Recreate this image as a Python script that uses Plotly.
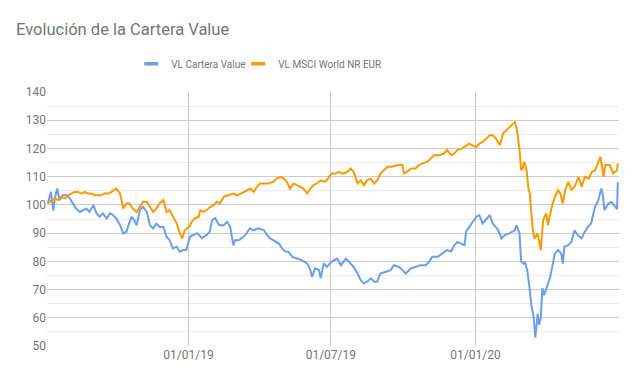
import plotly.graph_objects as go

title_text = "Evolución de la Cartera Value"
series_names = ["VL Cartera Value", "VL MSCI World NR EUR"]
series_colors = ["#6d9eeb", "#ff9900"]

cartera_dates = [
    "2018-07-06", "2018-07-10", "2018-07-13", "2018-07-15", "2018-07-18", "2018-07-21", "2018-07-25", "2018-07-30",
    "2018-08-03", "2018-08-07", "2018-08-11", "2018-08-16", "2018-08-20", "2018-08-24", "2018-08-28",
    "2018-09-02", "2018-09-06", "2018-09-10", "2018-09-14", "2018-09-19", "2018-09-23", "2018-09-27",
    "2018-10-01", "2018-10-06", "2018-10-10", "2018-10-14", "2018-10-18", "2018-10-21", "2018-10-25", "2018-10-27", "2018-10-31",
    "2018-11-04", "2018-11-09", "2018-11-13", "2018-11-17", "2018-11-21", "2018-11-25", "2018-11-30",
    "2018-12-04", "2018-12-08", "2018-12-12", "2018-12-17", "2018-12-21", "2018-12-25", "2018-12-29",
    "2019-01-03", "2019-01-12", "2019-01-18", "2019-01-24", "2019-01-28", "2019-01-31",
    "2019-02-04", "2019-02-09", "2019-02-15", "2019-02-19", "2019-02-23", "2019-02-27",
    "2019-03-01", "2019-03-06", "2019-03-12", "2019-03-16", "2019-03-20", "2019-03-25", "2019-03-31",
    "2019-04-07", "2019-04-11", "2019-04-15", "2019-04-19", "2019-04-26", "2019-04-30",
    "2019-05-04", "2019-05-08", "2019-05-13", "2019-05-19", "2019-05-25",
    "2019-06-01", "2019-06-05", "2019-06-07", "2019-06-11", "2019-06-16", "2019-06-18", "2019-06-22", "2019-06-26",
    "2019-07-02", "2019-07-05", "2019-07-09", "2019-07-14", "2019-07-20", "2019-07-24", "2019-07-30",
    "2019-08-04", "2019-08-08", "2019-08-12", "2019-08-16", "2019-08-21", "2019-08-25", "2019-08-29",
    "2019-09-02", "2019-09-09", "2019-09-15", "2019-09-19", "2019-09-26", "2019-09-30",
    "2019-10-04", "2019-10-11", "2019-10-17", "2019-10-23", "2019-10-30",
    "2019-11-03", "2019-11-07", "2019-11-14", "2019-11-20", "2019-11-26",
    "2019-12-01", "2019-12-05", "2019-12-09", "2019-12-13", "2019-12-18", "2019-12-20", "2019-12-24", "2019-12-28",
    "2020-01-02", "2020-01-06", "2020-01-10", "2020-01-15", "2020-01-19", "2020-01-23", "2020-01-30",
    "2020-02-03", "2020-02-07", "2020-02-13", "2020-02-20", "2020-02-22", "2020-02-26", "2020-02-28",
    "2020-03-02", "2020-03-04", "2020-03-07", "2020-03-10", "2020-03-12", "2020-03-15", "2020-03-16", "2020-03-17",
    "2020-03-19", "2020-03-20", "2020-03-22", "2020-03-24", "2020-03-26", "2020-03-28",
    "2020-04-01", "2020-04-05", "2020-04-09", "2020-04-11", "2020-04-15", "2020-04-19", "2020-04-21", "2020-04-23", "2020-04-28",
    "2020-05-02", "2020-05-06", "2020-05-10", "2020-05-15", "2020-05-19", "2020-05-23", "2020-05-27",
    "2020-06-01", "2020-06-05", "2020-06-09", "2020-06-11", "2020-06-13", "2020-06-18", "2020-06-22", "2020-06-26",
    "2020-06-29", "2020-06-30",
]
cartera_values = [
    100.5, 104.6, 98.0, 102.3, 105.8, 101.7, 103.4, 103.4,
    102.3, 100.5, 98.7, 97.5, 98.0, 98.7, 97.5,
    99.9, 97.0, 95.8, 97.0, 95.2, 97.0, 96.4,
    95.2, 92.8, 89.9, 90.5, 94.0, 95.8, 94.0, 92.8, 98.1,
    99.3, 97.5, 92.8, 91.6, 93.4, 92.2, 92.2,
    88.7, 87.5, 84.6, 85.2, 83.4, 84.0, 84.0,
    88.8, 90.0, 88.2, 89.3, 90.5, 94.6,
    95.3, 92.8, 92.8, 94.0, 92.2, 85.7,
    87.5, 87.5, 88.7, 90.0, 91.7, 91.0, 91.7,
    91.0, 89.3, 88.1, 87.5, 86.3, 84.6,
    83.5, 83.4, 81.6, 81.0, 80.4,
    79.2, 76.9, 74.5, 77.5, 76.9, 74.0, 79.3, 78.0,
    79.9, 80.4, 81.0, 78.6, 81.0, 79.8, 78.0,
    75.7, 73.3, 72.2, 72.8, 74.0, 72.8, 72.8,
    75.7, 76.3, 76.9, 78.6, 78.0, 76.9,
    75.7, 77.5, 78.0, 78.6, 78.6,
    79.8, 81.6, 81.6, 82.8, 84.0,
    83.5, 85.7, 86.9, 86.3, 85.7, 90.5, 92.2, 94.0,
    95.8, 96.4, 93.4, 95.0, 96.4, 93.4, 91.0,
    88.1, 89.3, 89.9, 91.0, 92.8, 89.9, 80.0,
    79.2, 79.8, 76.5, 70.0, 64.5, 60.4, 57.0, 53.0,
    58.0, 61.5, 57.5, 60.0, 70.5, 68.0,
    71.0, 74.5, 80.0, 82.8, 84.0, 82.8, 79.2, 85.2, 85.7,
    86.9, 91.0, 89.3, 88.1, 90.5, 92.2, 93.4,
    99.3, 101.5, 105.8, 103.4, 98.1, 100.5, 101.0, 99.7,
    98.5, 108.0,
]

msci_dates = [
    "2018-07-06", "2018-07-11", "2018-07-15", "2018-07-19", "2018-07-23", "2018-07-28",
    "2018-08-01", "2018-08-05", "2018-08-09", "2018-08-13", "2018-08-18", "2018-08-22", "2018-08-26", "2018-08-30",
    "2018-09-04", "2018-09-08", "2018-09-12", "2018-09-16", "2018-09-21", "2018-09-25", "2018-09-29",
    "2018-10-01", "2018-10-06", "2018-10-10", "2018-10-14", "2018-10-18", "2018-10-22", "2018-10-27", "2018-10-31",
    "2018-11-04", "2018-11-09", "2018-11-13", "2018-11-17", "2018-11-21", "2018-11-25", "2018-11-30",
    "2018-12-04", "2018-12-08", "2018-12-12", "2018-12-17", "2018-12-21", "2018-12-24", "2018-12-27",
    "2019-01-02", "2019-01-05", "2019-01-09", "2019-01-14", "2019-01-16", "2019-01-20", "2019-01-24", "2019-01-29",
    "2019-02-02", "2019-02-06", "2019-02-10", "2019-02-15", "2019-02-21", "2019-02-27",
    "2019-03-04", "2019-03-08", "2019-03-12", "2019-03-16", "2019-03-21", "2019-03-25", "2019-03-29",
    "2019-04-02", "2019-04-07", "2019-04-13", "2019-04-19", "2019-04-23", "2019-04-28",
    "2019-05-02", "2019-05-06", "2019-05-10", "2019-05-15", "2019-05-19", "2019-05-23", "2019-05-27",
    "2019-06-01", "2019-06-05", "2019-06-09", "2019-06-13", "2019-06-18", "2019-06-22", "2019-06-26", "2019-06-30",
    "2019-07-03", "2019-07-07", "2019-07-11", "2019-07-16", "2019-07-22", "2019-07-26", "2019-07-30",
    "2019-08-04", "2019-08-08", "2019-08-12", "2019-08-16", "2019-08-21", "2019-08-25", "2019-08-29",
    "2019-09-02", "2019-09-07", "2019-09-11", "2019-09-17", "2019-09-24", "2019-09-30",
    "2019-10-02", "2019-10-06", "2019-10-11", "2019-10-17", "2019-10-21", "2019-10-26",
    "2019-11-01", "2019-11-05", "2019-11-09", "2019-11-16", "2019-11-22", "2019-11-26",
    "2019-12-01", "2019-12-05", "2019-12-09", "2019-12-15", "2019-12-20", "2019-12-24", "2019-12-28",
    "2020-01-02", "2020-01-06", "2020-01-10", "2020-01-15", "2020-01-19", "2020-01-23", "2020-01-27",
    "2020-02-01", "2020-02-05", "2020-02-09", "2020-02-13", "2020-02-18", "2020-02-20", "2020-02-22", "2020-02-24",
    "2020-02-26", "2020-02-28", "2020-03-01", "2020-03-03", "2020-03-06", "2020-03-08", "2020-03-10", "2020-03-12",
    "2020-03-14", "2020-03-16", "2020-03-20", "2020-03-24", "2020-03-27", "2020-03-31",
    "2020-04-02", "2020-04-07", "2020-04-11", "2020-04-15", "2020-04-18", "2020-04-21", "2020-04-24", "2020-04-28",
    "2020-05-02", "2020-05-07", "2020-05-11", "2020-05-15", "2020-05-19", "2020-05-24", "2020-05-28",
    "2020-06-01", "2020-06-05", "2020-06-08", "2020-06-12", "2020-06-14", "2020-06-20", "2020-06-24", "2020-06-29",
    "2020-06-30",
]
msci_values = [
    100.5, 101.7, 102.3, 101.7, 102.9, 102.3,
    103.4, 104.0, 104.6, 104.6, 104.0, 104.6, 104.0, 104.0,
    103.4, 103.4, 103.4, 104.0, 104.0, 104.6, 105.2,
    105.8, 104.0, 98.7, 100.5, 100.5, 98.7, 97.5, 99.3,
    101.1, 101.1, 99.3, 97.5, 98.7, 100.5, 101.7,
    97.5, 98.1, 95.8, 93.4, 89.9, 88.1, 91.0,
    92.2, 94.0, 95.2, 95.8, 98.1, 97.5, 98.1, 99.3,
    99.9, 101.1, 100.5, 102.9, 103.4, 104.0,
    103.4, 104.0, 104.6, 105.2, 105.8, 104.6, 106.4,
    107.6, 107.6, 107.6, 108.2, 109.3, 109.9,
    109.3, 108.2, 105.8, 107.6, 107.0, 106.4, 105.8,
    104.0, 105.8, 107.0, 107.6, 108.7, 108.2, 108.7, 110.5,
    111.1, 111.1, 111.7, 111.1, 111.7, 112.9, 111.7,
    107.6, 108.7, 107.0, 108.7, 109.3, 107.6, 108.7,
    111.1, 112.3, 113.5, 113.5, 114.1, 114.1,
    111.1, 111.7, 112.9, 112.9, 114.1, 114.7,
    115.3, 116.4, 117.6, 117.6, 118.2, 119.4,
    117.6, 118.2, 119.4, 120.0, 121.1, 121.7, 121.1,
    120.5, 121.7, 122.3, 123.5, 124.7, 124.7, 123.5,
    121.1, 125.3, 126.4, 127.6, 128.8, 129.3, 127.6, 124.0,
    119.4, 112.3, 113.0, 115.3, 112.3, 106.4, 104.0, 97.0,
    91.0, 88.1, 89.9, 84.0, 94.6, 97.0,
    92.8, 99.3, 102.9, 105.2, 104.0, 100.5, 105.2, 108.2,
    105.2, 107.0, 109.9, 106.4, 109.9, 109.3, 111.7,
    112.3, 114.7, 117.0, 109.9, 114.1, 114.1, 111.1, 112.3,
    114.7,
]

x_tick_vals = ["2019-01-01", "2019-07-01", "2020-01-01", "2020-07-01"]
x_tick_text = ["01/01/19", "01/07/19", "01/01/20", ""]
x_range = ["2018-07-05", "2020-07-01 12:00"]
y_range = [50, 140]

font_family = "Roboto, Arial, sans-serif"
text_grey = "#757575"

series = [
    (series_names[0], cartera_dates, cartera_values, series_colors[0], "legend"),
    (series_names[1], msci_dates, msci_values, series_colors[1], "legend2"),
]

fig = go.Figure()
for name, xs, ys, color, leg in series:
    fig.add_trace(go.Scatter(
        x=xs, y=ys, name=name, mode="lines", legendgroup=name, showlegend=False,
        line=dict(color=color, width=2),
    ))
    # legend entry: short thick bar, like the original key
    fig.add_trace(go.Scatter(
        x=[None], y=[None], name=name, mode="markers", legendgroup=name, legend=leg,
        marker=dict(symbol="line-ew", size=10, color=color, line=dict(color=color, width=3.5)),
    ))

legend_style = dict(orientation="h", xanchor="left", yanchor="middle", y=1.111,
                    font=dict(size=10, color=text_grey, family=font_family),
                    itemwidth=30, bgcolor="rgba(0,0,0,0)")

# the page adds an 8px body margin, so the figure is 8px smaller than the window
fig.update_layout(
    width=631, height=379,
    margin=dict(l=38.5, r=20.3, t=83.7, b=41),
    paper_bgcolor="white", plot_bgcolor="white",
    font=dict(family=font_family, color=text_grey, size=12),
    title=dict(text=title_text, x=0.0127, xanchor="left", y=0.943, yanchor="middle",
               font=dict(size=16.5, color=text_grey, family=font_family)),
    legend=dict(x=0.1472, **legend_style),
    legend2=dict(x=0.3342, **legend_style),
    showlegend=True,
)
fig.update_xaxes(
    type="date", range=x_range, tickvals=x_tick_vals, ticktext=x_tick_text,
    showgrid=True, gridcolor="#cccccc", gridwidth=1, zeroline=False, showline=False,
    ticks="", tickfont=dict(size=12, color=text_grey),
)
fig.update_yaxes(
    range=y_range, dtick=10, tick0=50, showgrid=True, gridcolor="#cccccc", gridwidth=1,
    zeroline=False, showline=False, ticks="", tickfont=dict(size=12, color=text_grey),
    minor=dict(dtick=5, tick0=50, showgrid=True, gridcolor="#ebebeb", gridwidth=1),
)

fig.write_html("out.html")
